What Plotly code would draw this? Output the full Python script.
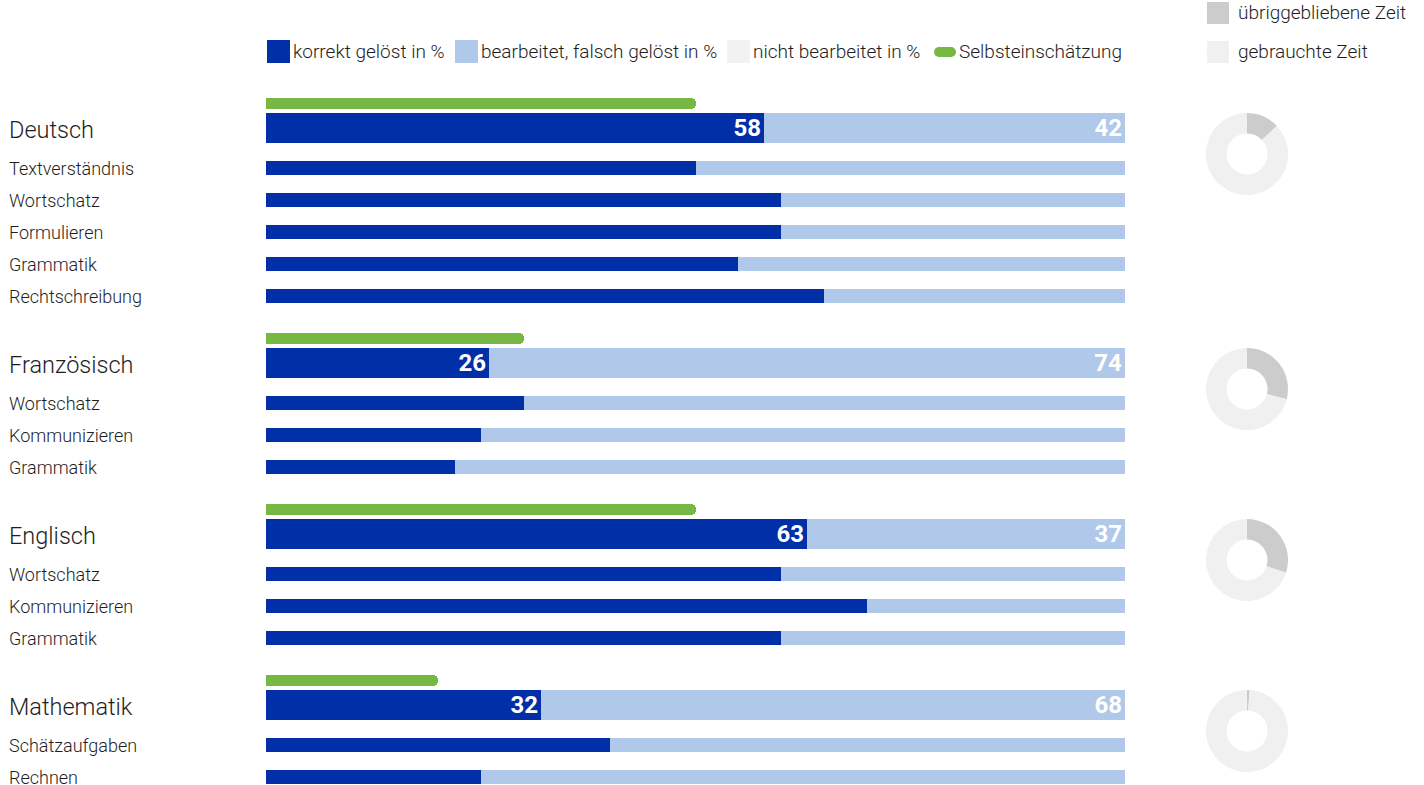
import plotly.graph_objects as go

# ---------------- data ----------------
subjects = ["Deutsch", "Französisch", "Englisch", "Mathematik"]
main_correct = [58, 26, 63, 32]
main_wrong = [42, 74, 37, 68]
main_not_done = [0, 0, 0, 0]
self_assessment = [50, 30, 50, 20]
time_remaining = [13, 29, 30, 1]
time_used = [87, 71, 70, 99]

sub_subject = [0, 0, 0, 0, 0, 1, 1, 1, 2, 2, 2, 3, 3]
sub_labels = ["Textverständnis", "Wortschatz", "Formulieren", "Grammatik", "Rechtschreibung",
              "Wortschatz", "Kommunizieren", "Grammatik",
              "Wortschatz", "Kommunizieren", "Grammatik",
              "Schätzaufgaben", "Rechnen"]
sub_correct = [50, 60, 60, 55, 65, 30, 25, 22, 60, 70, 60, 40, 25]
sub_wrong = [50, 40, 40, 45, 35, 70, 75, 78, 40, 30, 40, 60, 75]

legend_labels = ["korrekt gelöst in %", "bearbeitet, falsch gelöst in %", "nicht bearbeitet in %", "Selbsteinschätzung"]
time_labels = ["übriggebliebene Zeit", "gebrauchte Zeit"]

# ---------------- styles ----------------
C_DARK = "#002FA7"
C_LIGHT = "#B0C8E9"
C_NONE = "#F2F2F2"
C_GREEN = "#76B843"
C_REM = "#CCCCCC"
C_USED = "#F0F0F0"
TXT = "#1E1E1E"
FONT = "Roboto"
W, H = 1424, 785
X0, X1 = 266, 1125


def px(x):
    return x / W


def py(y):
    return 1 - y / H


# ---------------- layout positions (pixels from top) ----------------
main_y, green_y, sub_y = [], [], []
y = 128
for i in range(len(subjects)):
    main_y.append(y)
    green_y.append(y - 25)
    n = sum(1 for s in sub_subject if s == i)
    ys = [y + 40 + 32 * k for k in range(n)]
    sub_y.extend(ys)
    y = ys[-1] + 67

fig = go.Figure()

VAL_FONT = dict(color="white", size=24, family=FONT, weight="bold")
# main bars
fig.add_trace(go.Bar(orientation="h", y=main_y, x=main_correct, width=30,
                     marker=dict(color=C_DARK, line_width=0, cornerradius=0),
                     text=main_correct, textposition="inside", insidetextanchor="end",
                     textangle=0, constraintext="none", textfont=VAL_FONT,
                     showlegend=False))
fig.add_trace(go.Bar(orientation="h", y=main_y, x=main_wrong, width=30,
                     marker=dict(color=C_LIGHT, line_width=0),
                     text=main_wrong, textposition="inside", insidetextanchor="end",
                     textangle=0, constraintext="none", textfont=VAL_FONT,
                     showlegend=False))
fig.add_trace(go.Bar(orientation="h", y=main_y, x=main_not_done, width=30,
                     marker=dict(color=C_NONE, line_width=0), showlegend=False))
# sub bars
fig.add_trace(go.Bar(orientation="h", y=sub_y, x=sub_correct, width=14,
                     marker=dict(color=C_DARK, line_width=0), showlegend=False))
fig.add_trace(go.Bar(orientation="h", y=sub_y, x=sub_wrong, width=14,
                     marker=dict(color=C_LIGHT, line_width=0), showlegend=False))
# green self assessment (own axes so rounding stays on these bars only)
fig.add_trace(go.Bar(orientation="h", y=green_y, x=self_assessment, width=11,
                     marker=dict(color=C_GREEN, cornerradius=6, line_width=0),
                     xaxis="x2", yaxis="y2", showlegend=False))

# donuts
R = 41
for i in range(len(subjects)):
    cy = main_y[i] + 26
    cx = 1247
    fig.add_trace(go.Pie(values=[time_remaining[i], time_used[i]], labels=time_labels,
                         marker=dict(colors=[C_REM, C_USED], line_width=0),
                         hole=0.5, sort=False, direction="counterclockwise", rotation=0,
                         textinfo="none", showlegend=False,
                         domain=dict(x=[px(cx - R), px(cx + R)],
                                     y=[py(cy + R), py(cy - R)])))

LBL_FONT = dict(color=TXT, family=FONT, weight=300)
annotations = []
for i, s in enumerate(subjects):
    annotations.append(dict(xref="paper", yref="y", x=px(7), y=main_y[i] + 2, text=s,
                            xanchor="left", yanchor="middle", showarrow=False,
                            font=dict(size=23.5, **LBL_FONT)))
for j, s in enumerate(sub_labels):
    annotations.append(dict(xref="paper", yref="y", x=px(7), y=sub_y[j], text=s,
                            xanchor="left", yanchor="middle", showarrow=False,
                            font=dict(size=18, **LBL_FONT)))

shapes = []
# top legend
leg_x = [267, 455, 727, 934]
leg_colors = [C_DARK, C_LIGHT, C_NONE, C_GREEN]
for k, lab in enumerate(legend_labels):
    x = leg_x[k]
    if k < 3:
        shapes.append(dict(type="rect", xref="paper", yref="paper", x0=px(x), x1=px(x + 23),
                           y0=py(63), y1=py(40), fillcolor=leg_colors[k], line_width=0))
        tx = x + 24
    else:
        tx = x + 23
    annotations.append(dict(xref="paper", yref="paper", x=px(tx), y=py(52), text=lab,
                            xanchor="left", yanchor="middle", showarrow=False,
                            font=dict(size=19, **LBL_FONT)))
# green pill in legend (rect + two circles)
gx0, gx1, gy0, gy1 = 934, 956, 47, 57
shapes.append(dict(type="rect", xref="paper", yref="paper", x0=px(gx0 + 5), x1=px(gx1 - 5),
                   y0=py(gy1), y1=py(gy0), fillcolor=C_GREEN, line_width=0))
for cxp in (gx0 + 5, gx1 - 5):
    shapes.append(dict(type="circle", xref="paper", yref="paper", x0=px(cxp - 5), x1=px(cxp + 5),
                       y0=py(gy1), y1=py(gy0), fillcolor=C_GREEN, line_width=0))
# right legend
for k, lab in enumerate(time_labels):
    cyp = 13 + 39 * k
    shapes.append(dict(type="rect", xref="paper", yref="paper", x0=px(1207), x1=px(1229),
                       y0=py(cyp + 11), y1=py(cyp - 11),
                       fillcolor=[C_REM, C_USED][k], line_width=0))
    annotations.append(dict(xref="paper", yref="paper", x=px(1236), y=py(cyp), text=lab,
                            xanchor="left", yanchor="middle", showarrow=False,
                            font=dict(size=19, **LBL_FONT)))

axis_x = dict(domain=[px(X0), px(X1)], range=[0, 100], visible=False, fixedrange=True)
axis_y = dict(domain=[0, 1], range=[H, 0], visible=False, fixedrange=True)
fig.update_layout(
    width=W, height=H, margin=dict(l=0, r=0, t=0, b=0),
    paper_bgcolor="white", plot_bgcolor="white",
    barmode="stack", bargap=0,
    xaxis=axis_x, yaxis=axis_y,
    xaxis2=dict(axis_x, overlaying="x"), yaxis2=dict(axis_y, overlaying="y", anchor="x2"),
    annotations=annotations, shapes=shapes,
    font=dict(family=FONT, color=TXT),
)

fig.write_html("out.html", config={"displayModeBar": False},
               post_script="document.body.style.margin='0';document.body.style.padding='0';")
